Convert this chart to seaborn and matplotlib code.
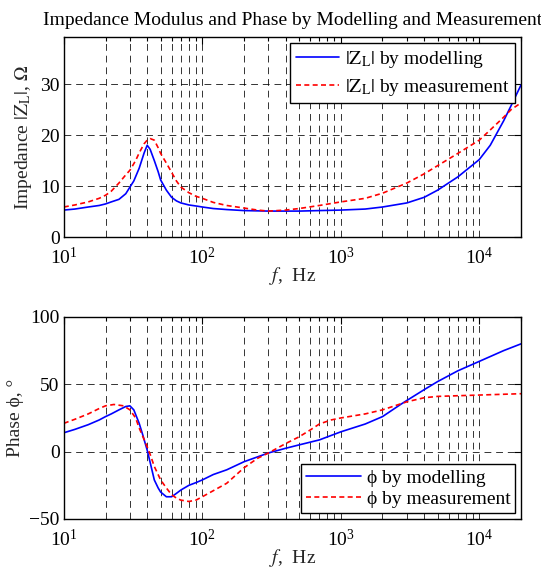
import numpy as np
import pandas as pd
import matplotlib
matplotlib.use("Agg")
import matplotlib.pyplot as plt
import seaborn as sns
from matplotlib.ticker import LogLocator, LogFormatterSciNotation, NullFormatter

# ---------------- data ----------------
f_mod_z = [10, 12, 15, 18, 20, 22, 25, 28, 30, 32, 35, 38, 40, 42, 45, 48, 50, 55, 60, 65,
           70, 80, 90, 100, 120, 150, 200, 300, 500, 700, 1000, 1500, 2000, 3000, 4000,
           5000, 7000, 10000, 12000, 15000, 17000, 20000]
z_mod = [5.3, 5.5, 5.9, 6.2, 6.5, 6.9, 7.4, 8.5, 9.8, 11.0, 13.5, 16.5, 18.0, 17.2, 15.0,
         12.8, 11.2, 9.2, 7.8, 7.1, 6.7, 6.3, 6.1, 5.9, 5.6, 5.4, 5.2, 5.1, 5.1, 5.2, 5.3,
         5.5, 5.9, 6.7, 7.8, 9.2, 11.8, 15.2, 18.0, 22.8, 25.8, 29.8]

f_meas_z = [10, 12, 15, 18, 20, 22, 25, 28, 30, 33, 35, 38, 40, 42, 45, 48, 50, 55, 60, 65,
            70, 80, 90, 100, 120, 150, 200, 250, 300, 400, 500, 700, 1000, 1500, 2000,
            3000, 4000, 5000, 7000, 10000, 12000, 15000, 17000, 20000]
z_meas = [5.9, 6.3, 6.9, 7.6, 8.2, 9.0, 10.6, 12.2, 13.1, 15.0, 16.5, 18.3, 19.0, 19.3,
          19.0, 17.5, 16.4, 14.5, 12.7, 11.0, 9.8, 8.7, 8.0, 7.6, 6.8, 6.2, 5.7, 5.3, 5.1,
          5.3, 5.6, 6.2, 6.9, 7.6, 8.6, 10.6, 12.4, 14.0, 16.4, 19.0, 21.0, 23.5, 25.0, 26.3]

f_mod_p = [10, 12, 15, 18, 20, 22, 25, 28, 30, 32, 35, 37, 40, 42, 45, 48, 50, 55, 60, 65,
           70, 80, 90, 100, 120, 150, 200, 300, 400, 500, 700, 1000, 1500, 2000, 2700,
           3000, 4000, 5000, 7000, 10000, 15000, 20000]
p_mod = [14, 16.5, 20, 23.5, 26, 28, 31, 33.5, 34, 31, 21, 13, 1, -8, -21, -27, -30, -33.5,
         -33.5, -31, -28.5, -25, -23, -21, -17, -13.5, -7.5, -1, 2.5, 5, 8.7, 14.7, 20.5, 26,
         35, 38, 46, 52, 60, 67, 75, 80]

f_meas_p = [10, 12, 15, 18, 20, 23, 27, 30, 33, 35, 38, 40, 42, 45, 50, 55, 60, 65, 70, 80,
            90, 100, 120, 150, 200, 250, 300, 400, 500, 600, 700, 850, 1000, 1500, 2000,
            3000, 4000, 5000, 7000, 10000, 20000]
p_meas = [21, 24, 28, 32, 34, 35, 34, 31, 25, 17.5, 9, 3.5, -2, -11, -21, -27, -32, -34.5,
          -36, -37, -36, -33.5, -29, -23.5, -12, -5, -1, 6, 11, 16, 20.5, 23.5, 25, 28, 31,
          37, 40, 41, 41.5, 42, 43]

labels_z = [r"$|\mathrm{Z}_\mathrm{L}|$ by modelling", r"$|\mathrm{Z}_\mathrm{L}|$ by measurement"]
labels_p = ["\u03d5 by modelling", "\u03d5 by measurement"]

# ---------------- style ----------------
sns.set_theme(style="white")
plt.rcParams["font.family"] = ["Liberation Serif", "DejaVu Serif"]
plt.rcParams["mathtext.fontset"] = "stix"
plt.rcParams["font.size"] = 14
plt.rcParams["axes.edgecolor"] = "black"
plt.rcParams["axes.linewidth"] = 1.0
plt.rcParams["xtick.color"] = "black"
plt.rcParams["ytick.color"] = "black"
plt.rcParams["text.color"] = "black"

FS = 14

fig = plt.figure(figsize=(5.41, 5.70), dpi=100)
ax1 = fig.add_axes([0.118, 0.584, 0.845, 0.351])
ax2 = fig.add_axes([0.118, 0.0895, 0.845, 0.3545])

grid_kw = dict(color="black", linestyle=(0, (7, 5)), linewidth=0.7, alpha=0.8)

def style_axes(ax):
    ax.set_xscale("log")
    ax.set_xlim(10, 2e4)
    ax.xaxis.set_major_locator(LogLocator(base=10, numticks=10))
    ax.xaxis.set_minor_locator(LogLocator(base=10, subs=np.arange(2, 10), numticks=20))
    ax.xaxis.set_major_formatter(LogFormatterSciNotation())
    ax.xaxis.set_minor_formatter(NullFormatter())
    ax.tick_params(which="both", direction="in", top=True, right=True, labelsize=FS)
    ax.tick_params(which="major", length=5, width=0.8)
    ax.tick_params(which="minor", length=3, width=0.8)
    ax.tick_params(axis="x", pad=7)
    ax.tick_params(axis="y", pad=3)
    ax.grid(True, which="both", axis="x", **grid_kw)
    ax.grid(True, which="major", axis="y", **grid_kw)
    for s in ax.spines.values():
        s.set_color("black")
        s.set_linewidth(1.0)
    ax.set_xlabel(r"$f$,  Hz", fontsize=FS, labelpad=-2)

# ---- top: impedance ----
df_mz = pd.DataFrame({"f": f_mod_z, "v": z_mod})
df_ez = pd.DataFrame({"f": f_meas_z, "v": z_meas})
sns.lineplot(data=df_mz, x="f", y="v", ax=ax1, color="blue", linewidth=1.2, label=labels_z[0])
sns.lineplot(data=df_ez, x="f", y="v", ax=ax1, color="red", linewidth=1.2,
             linestyle=(0, (3, 2)), label=labels_z[1])
style_axes(ax1)
ax1.set_ylim(0, 39.2)
ax1.set_yticks([0, 10, 20, 30])
ax1.set_ylabel(r"Impedance $|\mathrm{Z}_\mathrm{L}|$, $\Omega$", fontsize=FS, labelpad=4)
ax1.set_title("Impedance Modulus and Phase by Modelling and Measurement", fontsize=FS, pad=9)
leg1 = ax1.legend(loc="upper right", fontsize=FS, frameon=True, fancybox=False,
                  edgecolor="black", framealpha=1, handlelength=2.2, borderaxespad=0.3,
                  handletextpad=0.3, borderpad=0.3, labelspacing=0.35)
leg1.get_frame().set_linewidth(1.0)

# ---- bottom: phase ----
df_mp = pd.DataFrame({"f": f_mod_p, "v": p_mod})
df_ep = pd.DataFrame({"f": f_meas_p, "v": p_meas})
sns.lineplot(data=df_mp, x="f", y="v", ax=ax2, color="blue", linewidth=1.2, label=labels_p[0])
sns.lineplot(data=df_ep, x="f", y="v", ax=ax2, color="red", linewidth=1.2,
             linestyle=(0, (3, 2)), label=labels_p[1])
style_axes(ax2)
ax2.set_ylim(-50, 100)
ax2.set_yticks([-50, 0, 50, 100])
ax2.set_ylabel("Phase \u03d5, \u00b0", fontsize=FS, labelpad=4)
leg2 = ax2.legend(loc="lower right", fontsize=FS, frameon=True, fancybox=False,
                  edgecolor="black", framealpha=1, handlelength=2.8, borderaxespad=0.3,
                  handletextpad=0.3, borderpad=0.25, labelspacing=0.2)
leg2.get_frame().set_linewidth(1.0)

fig.savefig("out.png", dpi=100)
